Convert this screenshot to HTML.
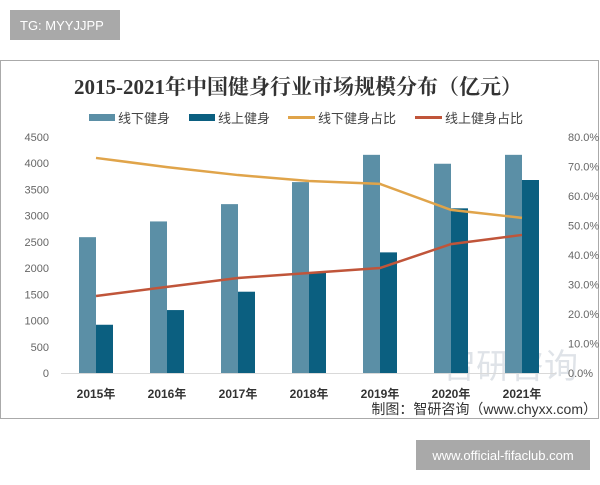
<!DOCTYPE html>
<html><head><meta charset="utf-8"><style>
body{margin:0;width:600px;height:480px;background:#fff;overflow:hidden;font-family:"Liberation Sans","Noto Sans CJK SC",sans-serif}
</style></head><body>
<svg width="600" height="480" xmlns="http://www.w3.org/2000/svg">
<rect x="10" y="10" width="110" height="30" fill="#a9a9a9"/>
<text x="20" y="30" font-size="13" fill="#fff">TG: MYYJJPP</text>
<rect x="0.5" y="60.5" width="598" height="358" fill="#fff" stroke="#aaa"/>
<text x="298" y="94" font-size="21" font-weight="bold" fill="#333" text-anchor="middle" font-family="Liberation Serif,'Noto Serif CJK SC',serif">2015-2021年中国健身行业市场规模分布（亿元）</text>
<g font-size="13" fill="#444">
<rect x="89" y="114" width="26" height="7" fill="#5b8fa6"/><text x="118" y="123">线下健身</text>
<rect x="189" y="114" width="26" height="7" fill="#0b5f80"/><text x="218" y="123">线上健身</text>
<rect x="288" y="116" width="27" height="3" fill="#e0a44a"/><text x="318" y="123">线下健身占比</text>
<rect x="415" y="116" width="27" height="3" fill="#c0553a"/><text x="445" y="123">线上健身占比</text>
</g>
<text x="510" y="378" font-size="34" fill="#d8dde3" opacity="0.8" text-anchor="middle">智研咨询</text>
<g id="plot"></g>
<text x="597" y="414" font-size="14" fill="#333" text-anchor="end">制图：智研咨询（www.chyxx.com）</text>
<rect x="416" y="440" width="174" height="30" fill="#a9a9a9"/>
<text x="503" y="460" font-size="13" fill="#fff" text-anchor="middle">www.official-fifaclub.com</text>
</svg>
<script>
const categories=["2015年","2016年","2017年","2018年","2019年","2020年","2021年"];
const offline=[2590,2890,3220,3640,4160,3990,4160];
const online=[920,1200,1550,1910,2300,3140,3680];
const offlineShare=[72.9,69.8,67.1,65.1,64.1,55.3,52.6];
const onlineShare=[26.1,29.2,32.2,33.9,35.6,43.7,46.8];
const leftTicks=[0,500,1000,1500,2000,2500,3000,3500,4000,4500];
const rightTicks=[0,10,20,30,40,50,60,70,80];
const NS="http://www.w3.org/2000/svg",g=document.getElementById('plot');
const x0=60.5,step=71,yb=373,yt=137;
const xc=i=>x0+step*(i+0.5);
const yL=v=>yb-(v/4500)*(yb-yt);
const yR=v=>yb-(v/80)*(yb-yt);
function mk(t,a){const e=document.createElementNS(NS,t);for(const k in a)e.setAttribute(k,a[k]);g.appendChild(e);return e;}
leftTicks.forEach(v=>{const t=mk('text',{x:49,y:yL(v)+4,'font-size':11,fill:'#666','text-anchor':'end'});t.textContent=v;

});
rightTicks.forEach(v=>{const t=mk('text',{x:568,y:yR(v)+4,'font-size':11,fill:'#666'});t.textContent=v.toFixed(1)+'%';

});
const ax=mk('line',{x1:61,x2:556,y1:yb+0.5,y2:yb+0.5,stroke:'#d9d9d9'});


categories.forEach((c,i)=>{
const b1=mk('rect',{x:xc(i)-17,y:yL(offline[i]),width:17,height:yb-yL(offline[i]),fill:'#5b8fa6'});


const b2=mk('rect',{x:xc(i),y:yL(online[i]),width:17,height:yb-yL(online[i]),fill:'#0b5f80'});


const t=mk('text',{x:xc(i),y:398,'font-size':12,'font-weight':'bold',fill:'#333','text-anchor':'middle'});t.textContent=c;


});
const l1=mk('polyline',{points:offlineShare.map((v,i)=>xc(i)+','+yR(v)).join(' '),fill:'none',stroke:'#e0a44a','stroke-width':2.5});


const l2=mk('polyline',{points:onlineShare.map((v,i)=>xc(i)+','+yR(v)).join(' '),fill:'none',stroke:'#c0553a','stroke-width':2.5});


</script>
</body></html>
